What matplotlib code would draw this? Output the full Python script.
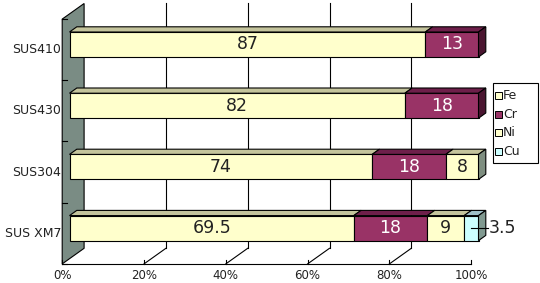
import matplotlib
matplotlib.use("Agg")
import matplotlib.pyplot as plt
from matplotlib.patches import Polygon, Rectangle
import numpy as np

plt.rcParams['font.family'] = ['DejaVu Sans']

# data
grades = ["SUS410", "SUS430", "SUS304", "SUS XM7"]
elements = ["Fe", "Cr", "Ni", "Cu"]
fe = [87, 82, 74, 69.5]
cr = [13, 18, 18, 18]
ni = [0, 0, 8, 9]
cu = [0, 0, 0, 3.5]
xticks = [0, 20, 40, 60, 80, 100]
xticklabels = ["0%", "20%", "40%", "60%", "80%", "100%"]

# colours: front, top, side
colors = {
    "Fe": ("#FFFFCC", "#C4C49C", "#7E8E80"),
    "Cr": ("#993366", "#6E1F4A", "#4A1530"),
    "Ni": ("#FFFFCC", "#C4C49C", "#7E8E80"),
    "Cu": ("#CCFFFF", "#9FC0C8", "#809990"),
}
text_col = {"Fe": "#222222", "Cr": "white", "Ni": "#222222", "Cu": "#222222"}

W, H = 540, 283
S = 4.09      # px per percent
P = 61.2      # px per category
X0 = 69.5     # px of 0% on bar front
Y0 = 44.5     # px of first bar centre
DX = 7.3 / S  # depth step
DY = -5.2 / P
BH = 25 / P   # bar height

fig = plt.figure(figsize=(W / 100, H / 100), dpi=100)
ax = fig.add_axes([0, 0, 1, 1])
ax.set_xlim(-X0 / S, (W - X0) / S)
ax.set_ylim((H - Y0) / P, -Y0 / P)
ax.axis("off")

n = len(grades)
top, bot = -0.5, n - 0.5

# back wall (left side)
wall = Polygon([(-DX, top - DY), (-DX, bot - DY), (2 * DX, bot + 2 * DY), (2 * DX, top + 2 * DY)],
               closed=True, facecolor="#7A8C84", edgecolor="black", lw=0.8, zorder=1)
ax.add_patch(wall)

# gridlines on back plane and floor
for t in xticks[1:]:
    if t < 100:
        ax.plot([t + 2 * DX, t + 2 * DX], [top + 2 * DY, bot + 2 * DY], color="black", lw=0.8, zorder=1)
        ax.plot([t + 2 * DX, t - DX], [bot + 2 * DY, bot - DY], color="black", lw=0.8, zorder=1)
ax.plot([-DX, 100 - DX], [bot - DY, bot - DY], color="black", lw=0.8, zorder=1)
for t, lab in zip(xticks, xticklabels):
    ax.plot([t - DX, t - DX], [bot - DY, bot - DY - 4 / P], color="black", lw=0.8, zorder=1)
    ax.text(t - DX, bot - DY + 12 / P, lab, ha="center", va="center", fontsize=8.5, color="#222222")

# category ticks and labels
for k in range(n + 1):
    yb = k - 0.5 - DY
    ax.plot([-DX, -DX + 5 / S], [yb, yb], color="black", lw=0.8, zorder=2)
for i, g in enumerate(grades):
    ax.text(-DX - 1 / S, i - DY, g, ha="right", va="center", fontsize=9, color="#222222")

# bars
series = {"Fe": fe, "Cr": cr, "Ni": ni, "Cu": cu}
for i in range(n):
    left = 0
    yt, yb = i - BH / 2, i + BH / 2
    segs = [(e, series[e][i]) for e in elements if series[e][i] > 0]
    for j, (e, v) in enumerate(segs):
        front, topc, side = colors[e]
        right = left + v
        ax.barh(i, v, left=left, height=BH, color=front, edgecolor="black", lw=0.8, zorder=3)
        ax.add_patch(Polygon([(left, yt), (right, yt), (right + DX, yt + DY), (left + DX, yt + DY)],
                             closed=True, facecolor=topc, edgecolor="black", lw=0.8, zorder=3))
        if j == len(segs) - 1:
            ax.add_patch(Polygon([(right, yt), (right, yb), (right + DX, yb + DY), (right + DX, yt + DY)],
                                 closed=True, facecolor=side, edgecolor="black", lw=0.8, zorder=3))
        lab = f"{v:g}"
        if e == "Cu":
            ax.plot([left + v / 2, right + DX + 2 / S], [i, i], color="black", lw=0.8, zorder=4)
            ax.text(right + DX + 3 / S, i, lab, ha="left", va="center", fontsize=12.5, color="#222222", zorder=4)
        else:
            ax.text(left + v / 2, i, lab, ha="center", va="center", fontsize=12.5, color=text_col[e], zorder=4)
        left = right

# legend
def px(x, y):
    return (x - X0) / S, (y - Y0) / P

lx0, ly0 = px(493, 83)
lx1, ly1 = px(538, 163)
ax.add_patch(Rectangle((lx0, ly0), lx1 - lx0, ly1 - ly0, facecolor="white", edgecolor="black", lw=0.8, zorder=5))
for k, e in enumerate(elements):
    yc = 96 + 18.5 * k
    sx, sy = px(495, yc - 3.5)
    ax.add_patch(Rectangle((sx, sy), 7 / S, 7 / P, facecolor=colors[e][0], edgecolor="black", lw=0.7, zorder=6))
    tx, ty = px(503, yc)
    ax.text(tx, ty, e, ha="left", va="center", fontsize=9, color="#222222", zorder=6)

fig.savefig("out.png", dpi=100)
